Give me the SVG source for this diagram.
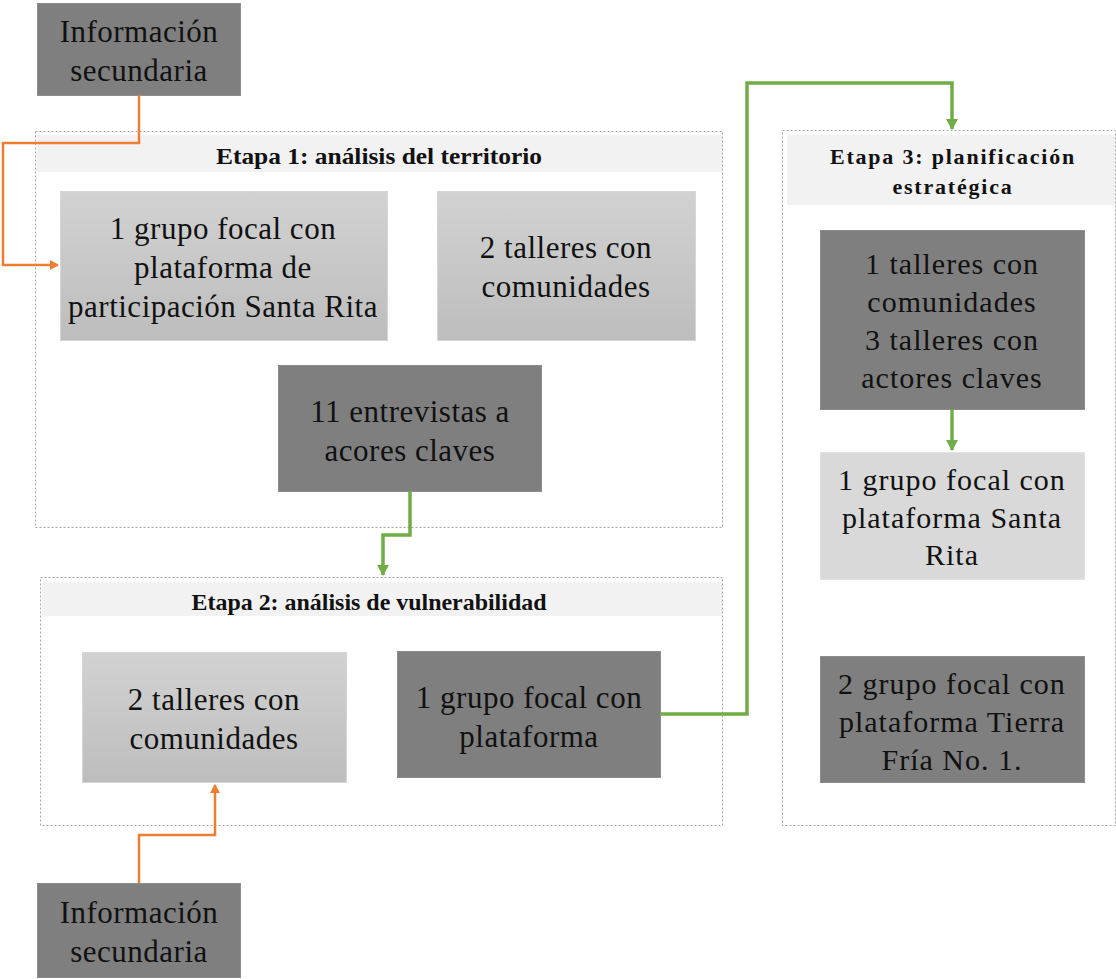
<svg xmlns="http://www.w3.org/2000/svg" width="1116" height="979" viewBox="0 0 1116 979">
<defs>
<linearGradient id="lg" x1="0" y1="0" x2="0" y2="1"><stop offset="0" stop-color="#d2d2d2"/><stop offset="1" stop-color="#bdbdbd"/></linearGradient>
<marker id="ao" markerWidth="10" markerHeight="10" refX="8" refY="5" orient="auto" markerUnits="userSpaceOnUse"><path d="M0,0 L9,5 L0,10 z" fill="#ED7D31"/></marker>
<marker id="ag" markerWidth="12" markerHeight="12" refX="10" refY="6" orient="auto" markerUnits="userSpaceOnUse"><path d="M0,0 L11,6 L0,12 z" fill="#70AD47"/></marker>
</defs>
<style>
.dark{fill:#7f7f7f;stroke:#8c8c8c;stroke-width:1}
.light{fill:url(#lg);stroke:#d6d6d6;stroke-width:1}
.pale{fill:#d9d9d9;stroke:#e0e0e0;stroke-width:1}
.cont{fill:#fff;stroke:#a6a6a6;stroke-width:1;stroke-dasharray:2,2}
.band{fill:#f2f2f2}
text{font-family:'Liberation Serif','Times New Roman',serif;fill:#111;text-anchor:middle}
.t{font-size:31px;letter-spacing:0.5px}
.tw{font-size:30px;letter-spacing:1px}
.h{font-size:24px;font-weight:bold}
.hw{font-size:22px;font-weight:bold;letter-spacing:1.8px}
.co{fill:none;stroke:#ED7D31;stroke-width:2.5}
.cg{fill:none;stroke:#70AD47;stroke-width:3.5}
</style>

<g id="etapa1">
<rect class="cont" x="35.5" y="131.5" width="687" height="396"/>
<rect class="band" x="37" y="135" width="685" height="37"/>
<text class="h" x="379" y="164" textLength="326" lengthAdjust="spacingAndGlyphs">Etapa 1: análisis del territorio</text>
</g>
<g id="etapa2">
<rect class="cont" x="40.5" y="577.5" width="682" height="248"/>
<rect class="band" x="42" y="582" width="680" height="34"/>
<text class="h" x="369" y="610" textLength="355" lengthAdjust="spacingAndGlyphs">Etapa 2: análisis de vulnerabilidad</text>
</g>
<g id="etapa3">
<rect class="cont" x="782.5" y="130.5" width="333" height="695"/>
<rect class="band" x="787" y="135" width="328" height="70"/>
<text class="hw" x="953" y="164">Etapa 3: planificación</text>
<text class="hw" x="953" y="194">estratégica</text>
</g>

<g id="info1">
<rect class="dark" x="37.5" y="3.5" width="203" height="92"/>
<text class="t" x="139" y="42">Información</text>
<text class="t" x="139" y="81">secundaria</text>
</g>
<g id="info2">
<rect class="dark" x="37.5" y="883.5" width="203" height="94"/>
<text class="t" x="139" y="923">Información</text>
<text class="t" x="139" y="962">secundaria</text>
</g>

<g id="n1">
<rect class="light" x="60.5" y="191.5" width="327" height="149"/>
<text class="t" x="223" y="239">1 grupo focal con</text>
<text class="t" x="223" y="278">plataforma de</text>
<text class="t" x="223" y="317">participación Santa Rita</text>
</g>
<g id="n2">
<rect class="light" x="437.5" y="191.5" width="258" height="149"/>
<text class="t" x="566" y="258">2 talleres con</text>
<text class="t" x="566" y="297">comunidades</text>
</g>
<g id="n3">
<rect class="dark" x="278.5" y="365.5" width="263" height="126"/>
<text class="t" x="410" y="422">11 entrevistas a</text>
<text class="t" x="410" y="461">acores claves</text>
</g>
<g id="n4">
<rect class="light" x="82.5" y="652.5" width="264" height="130"/>
<text class="t" x="214" y="710">2 talleres con</text>
<text class="t" x="214" y="749">comunidades</text>
</g>
<g id="n5">
<rect class="dark" x="397.5" y="651.5" width="263" height="126"/>
<text class="t" x="529" y="708">1 grupo focal con</text>
<text class="t" x="529" y="747">plataforma</text>
</g>
<g id="n6">
<rect class="dark" x="820.5" y="230.5" width="264" height="179"/>
<text class="tw" x="952" y="274">1 talleres con</text>
<text class="tw" x="952" y="312">comunidades</text>
<text class="tw" x="952" y="350">3 talleres con</text>
<text class="tw" x="952" y="388">actores claves</text>
</g>
<g id="n7">
<rect class="pale" x="820.5" y="452.5" width="264" height="127"/>
<text class="tw" x="952" y="490">1 grupo focal con</text>
<text class="tw" x="952" y="528">plataforma Santa</text>
<text class="tw" x="952" y="565">Rita</text>
</g>
<g id="n8">
<rect class="dark" x="820.5" y="656.5" width="264" height="126"/>
<text class="tw" x="952" y="694">2 grupo focal con</text>
<text class="tw" x="952" y="732">plataforma Tierra</text>
<text class="tw" x="952" y="770">Fría No. 1.</text>
</g>

<g id="connectors">
<path class="co" d="M139,95 V143 H3 V265 H58" marker-end="url(#ao)"/>
<path class="co" d="M139,883 V835 H215 V785" marker-end="url(#ao)"/>
<path class="cg" d="M410,491 V535 H383 V575" marker-end="url(#ag)"/>
<path class="cg" d="M660,714 H747 V83 H952 V129" marker-end="url(#ag)"/>
<path class="cg" d="M952,409 V450" marker-end="url(#ag)"/>
</g>
</svg>
